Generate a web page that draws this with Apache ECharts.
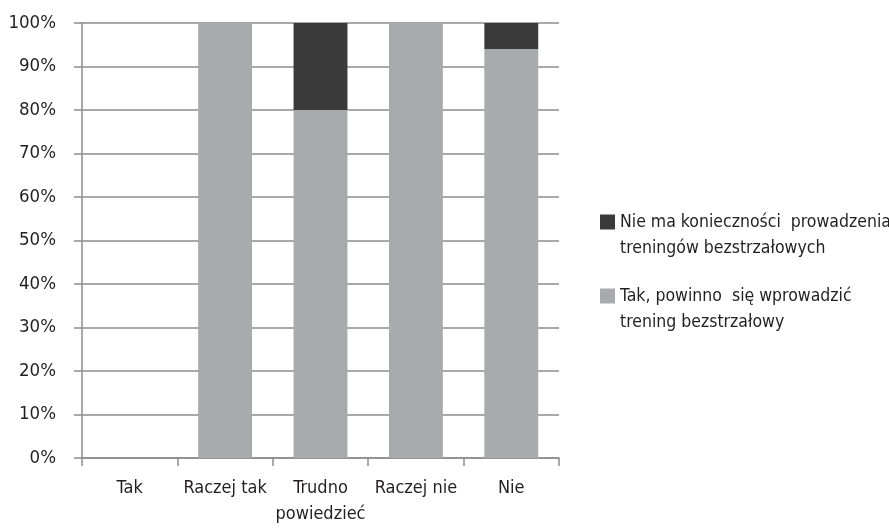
<!DOCTYPE html>
<html><head><meta charset="utf-8">
<script src="https://cdn.jsdelivr.net/npm/echarts@6/dist/echarts.min.js"></script>
<style>html,body{margin:0;padding:0;background:#fff}#c{width:889px;height:529px}</style>
</head><body><div id="c"></div>
<script>
const categories = ['Tak', 'Raczej tak', 'Trudno\npowiedzieć', 'Raczej nie', 'Nie'];
const seriesNames = ['Nie ma konieczności  prowadzenia\ntreningów bezstrzałowych', 'Tak, powinno  się wprowadzić\ntrening bezstrzałowy'];
const valuesYes = [0, 100, 80, 100, 94];
const valuesNo = [0, 0, 20, 0, 6];
const yTicks = [0, 10, 20, 30, 40, 50, 60, 70, 80, 90, 100];

const FONT = '"DejaVu Sans Condensed","Liberation Sans Narrow",sans-serif';
const chart = echarts.init(document.getElementById('c'), null, {renderer: 'canvas'});
chart.setOption({
  animation: false,
  backgroundColor: '#fff',
  textStyle: {fontFamily: FONT, color: '#231f20'},
  grid: {left: 82, right: 330, top: 23, bottom: 71, containLabel: false},
  legend: {
    orient: 'vertical', left: 600, top: 183, padding: 0,
    data: [seriesNames[0], seriesNames[1]],
    itemWidth: 15, itemHeight: 15, itemGap: -4,
    icon: 'rect',
    formatter: n => ' \n' + n,
    textStyle: {fontFamily: FONT, fontSize: 17.5, color: '#231f20', lineHeight: 26}
  },
  xAxis: {
    type: 'category', data: categories,
    axisLine: {lineStyle: {color: '#8c8c8c', width: 1.5}},
    axisTick: {show: true, length: 8, lineStyle: {color: '#8c8c8c', width: 1.5}},
    axisLabel: {fontFamily: FONT, fontSize: 18, color: '#231f20', margin: 17, lineHeight: 26, interval: 0}
  },
  yAxis: {
    type: 'value', min: 0, max: 100, interval: 10,
    axisLine: {show: true, lineStyle: {color: '#8c8c8c', width: 1.5}},
    axisTick: {show: true, length: 8, lineStyle: {color: '#8c8c8c', width: 1.5}},
    splitLine: {show: true, lineStyle: {color: '#8c8c8c', width: 1.5}},
    axisLabel: {fontFamily: FONT, fontSize: 18.5, color: '#231f20', margin: 26,
      formatter: v => yTicks.includes(v) ? v + '%' : ''}
  },
  series: [
    {name: seriesNames[1], type: 'bar', stack: 's', data: valuesYes, barWidth: '56.5%',
     itemStyle: {color: '#a9aaad'}},
    {name: seriesNames[0], type: 'bar', stack: 's', data: valuesNo, barWidth: '56.5%',
     itemStyle: {color: '#3a3a3a'}}
  ]
});
</script></body></html>
